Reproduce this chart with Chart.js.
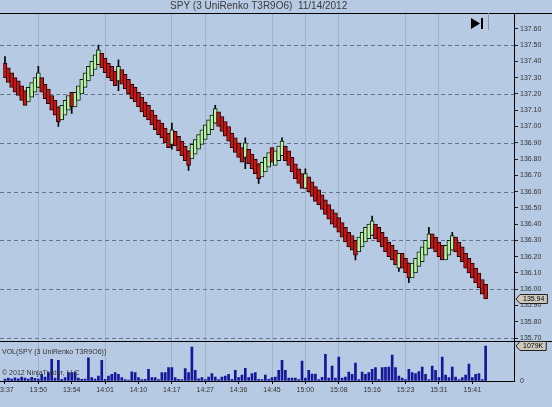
<!DOCTYPE html>
<html>
<head>
<meta charset="utf-8">
<script src="https://cdn.jsdelivr.net/npm/chart.js@4.4.0/dist/chart.umd.min.js"></script>
<style>
  html, body { margin: 0; padding: 0; background: #b7cae3; }
  #wrap { width: 552px; height: 407px; }
</style>
</head>
<body>
<div id="wrap"><canvas id="c" width="552" height="407"></canvas></div>
<script>
// time labels, one every 10 bricks
const timeLabels = ['13:37','13:50','13:54','14:01','14:10','14:17','14:27','14:36','14:45',
                    '15:00','15:08','15:16','15:23','15:31','15:41'];
// which time labels get a vertical grid line in the original
const gridTimes = ['13:50','14:01','14:17','14:27','14:45','15:00','15:08','15:23','15:31'];
const priceTicks = [137.60,137.50,137.40,137.30,137.20,137.10,137.00,136.90,136.80,136.70,
                    136.60,136.50,136.40,136.30,136.20,136.10,136.00,135.90,135.80,135.70];

// brick closes
const closes = [
  137.30,137.27,137.24,137.21,137.19,137.16,137.13,
  137.24,137.27,137.30,137.33,
  137.21,137.17,137.14,137.10,137.07,137.03,
  137.13,137.16,137.19,137.12,137.21,137.25,137.29,137.33,137.37,137.40,137.44,137.47,
  137.36,137.33,137.30,137.28,137.25,
  137.37,
  137.26,137.23,137.20,137.17,137.15,137.12,137.09,137.06,137.04,137.01,136.98,136.95,136.93,136.90,136.87,
  136.98,
  136.88,136.85,136.82,136.79,136.76,
  136.89,136.92,136.95,136.98,137.01,137.04,137.07,137.11,
  137.00,136.97,136.94,136.91,136.87,136.84,136.81,136.78,
  136.90,
  136.77,136.74,136.71,136.68,
  136.78,136.81,136.84,136.78,136.85,136.88,136.91,
  136.79,136.76,136.72,136.68,136.65,136.62,
  136.71,
  136.60,136.57,136.54,136.52,136.49,136.46,136.43,136.40,136.38,136.35,136.32,136.29,136.26,136.24,136.21,
  136.32,136.35,136.38,136.40,136.42,
  136.31,136.29,136.26,136.23,136.20,136.18,136.15,
  136.22,
  136.13,136.10,136.07,
  136.16,136.19,136.23,136.26,136.30,136.34,
  136.25,136.23,136.20,136.18,
  136.27,136.30,136.33,
  136.23,136.20,136.17,136.13,136.10,136.07,136.04,136.01,135.97,135.94
];
const BOX = 0.09; // brick body height

// visible wicks: brick index, low, high
const wickIdx  = [0, 10, 16, 20, 28, 34, 50, 55, 63, 72, 76, 83, 90, 105, 110, 118, 121, 127, 134];
const wickLow  = [null, null, 137.00, 137.08, null, 137.22, 136.86, 136.73, null, 136.74, 136.65, null, null, 136.18, null, 136.11, 136.04, null, null];
const wickHigh = [137.43, 137.37, null, null, 137.50, 137.41, 137.02, null, 137.13, 136.93, null, 136.93, 136.74, null, 136.45, null, null, 136.38, 136.35];

// volume per brick (K)
const volumes = [
  60,90,60,100,70,120,90,60,110,80,
  60,205,120,257,668,90,637,50,103,257,
  257,277,90,50,60,718,103,60,154,637,
  50,154,205,257,205,103,40,30,286,257,
  103,40,50,360,103,103,40,257,257,410,
  410,103,50,40,380,257,1048,330,70,103,
  40,123,225,123,40,123,154,205,50,330,
  103,185,390,103,225,257,50,40,185,50,
  103,123,330,638,330,90,90,90,40,616,
  90,330,215,215,40,110,822,90,462,90,
  740,90,123,277,205,555,40,277,205,257,
  360,410,50,410,420,430,800,410,154,90,
  40,360,257,225,287,430,205,40,462,330,
  103,740,185,103,430,123,40,103,185,524,
  103,205,225,40,1079
];

const SLOTS = 153;
const labels = Array.from({ length: SLOTS }, (_, i) => (i % 10 === 0 && timeLabels[i / 10]) ? timeLabels[i / 10] : '');

const isUp = closes.map((c, i) => i > 0 && c > closes[i - 1]);
const bodies = closes.map((c, i) => isUp[i] ? [c - BOX, c] : [c, c + BOX]);
const wicks = closes.map(() => null);
wickIdx.forEach((idx, k) => {
  const b = bodies[idx];
  wicks[idx] = [wickLow[k] == null ? b[0] : Math.min(wickLow[k], b[0]),
                wickHigh[k] == null ? b[1] : Math.max(wickHigh[k], b[1])];
});

const FONT = "'Liberation Sans', Arial, sans-serif";

function markerBox(ctx, x, y, text) {
  ctx.save();
  ctx.font = '7px ' + FONT;
  const w = ctx.measureText(text).width + 6;
  ctx.beginPath();
  ctx.moveTo(x, y);
  ctx.lineTo(x + 4, y - 4.5);
  ctx.lineTo(x + 4 + w, y - 4.5);
  ctx.lineTo(x + 4 + w, y + 4.5);
  ctx.lineTo(x + 4, y + 4.5);
  ctx.closePath();
  ctx.fillStyle = '#cfc9bd';
  ctx.fill();
  ctx.strokeStyle = '#222';
  ctx.lineWidth = 1;
  ctx.stroke();
  ctx.fillStyle = '#000';
  ctx.textBaseline = 'middle';
  ctx.fillText(text, x + 7, y + 0.5);
  ctx.restore();
}

const decor = {
  id: 'decor',
  beforeDatasetsDraw(chart) {
    const { ctx, chartArea: a } = chart;
    const ys = chart.scales.y;
    ctx.save();
    ctx.strokeStyle = '#66748a';
    ctx.lineWidth = 1;
    ctx.setLineDash([4, 3]);
    priceTicks.forEach(v => {
      // dashed line every 0.30, on 137.50, 137.20 ... 135.70
      if (Math.round(v * 100) % 30 !== 10) return;
      const y = Math.round(ys.getPixelForValue(v)) + 0.5;
      ctx.beginPath();
      ctx.moveTo(0, y);
      ctx.lineTo(a.right, y);
      ctx.stroke();
    });
    ctx.restore();
  },
  afterDraw(chart) {
    const { ctx, chartArea: a, width } = chart;
    const ys = chart.scales.y, yv = chart.scales.yv;
    ctx.save();
    ctx.strokeStyle = '#000';
    ctx.lineWidth = 1;
    ctx.beginPath();
    ctx.moveTo(0, Math.round(a.top) + 0.5); ctx.lineTo(width, Math.round(a.top) + 0.5);
    ctx.moveTo(0, Math.round(yv.top) + 0.5); ctx.lineTo(width, Math.round(yv.top) + 0.5);
    ctx.moveTo(0, Math.round(a.bottom) + 0.5); ctx.lineTo(a.right, Math.round(a.bottom) + 0.5);
    ctx.stroke();

    // play-to-end icon
    ctx.fillStyle = '#000';
    ctx.beginPath();
    ctx.moveTo(471, 18); ctx.lineTo(480, 23.5); ctx.lineTo(471, 29); ctx.closePath();
    ctx.fill();
    ctx.fillRect(481, 18, 2, 11);
    ctx.strokeStyle = '#8a97aa';
    ctx.beginPath(); ctx.moveTo(488.5, a.top); ctx.lineTo(488.5, 30); ctx.stroke();

    ctx.font = '7px ' + FONT;
    ctx.fillStyle = '#333';
    ctx.textBaseline = 'middle';
    ctx.fillText('VOL(SPY (3 UniRenko T3R9O6))', 2, yv.top + 11);
    ctx.fillText('\u00A9 2012 NinjaTrader, LLC', 2, yv.top + 32);
    ctx.restore();

    const last = closes.length - 1;
    markerBox(ctx, a.right + 2, ys.getPixelForValue(closes[last]), closes[last].toFixed(2));
    markerBox(ctx, a.right + 2, yv.getPixelForValue(volumes[last]), volumes[last] + 'K');
  }
};

new Chart(document.getElementById('c'), {
  type: 'bar',
  data: {
    labels,
    datasets: [
      {
        label: 'bricks',
        data: bodies,
        yAxisID: 'y',
        grouped: false,
        barThickness: 4,
        borderWidth: 1,
        borderSkipped: false,
        backgroundColor: isUp.map(u => u ? '#b9f0ab' : '#c81616'),
        borderColor: isUp.map(u => u ? '#0a200a' : '#200000')
      },
      {
        label: 'wicks',
        data: wicks,
        yAxisID: 'y',
        grouped: false,
        barThickness: 1,
        backgroundColor: '#000'
      },
      {
        label: 'volume',
        data: volumes,
        yAxisID: 'yv',
        grouped: false,
        barThickness: 2,
        backgroundColor: '#16169a'
      }
    ]
  },
  options: {
    responsive: false,
    animation: false,
    layout: { padding: { left: 3.3, right: 0, top: 0, bottom: 0 } },
    plugins: {
      legend: { display: false },
      tooltip: { enabled: false },
      title: {
        display: true,
        fullSize: false,
        text: 'SPY (3 UniRenko T3R9O6)  11/14/2012',
        color: '#3a3a3a',
        font: { family: FONT, size: 10, weight: 'normal' },
        padding: { top: 0, bottom: 1 }
      }
    },
    scales: {
      x: {
        type: 'category',
        offset: true,
        grid: {
          offset: false,
          color: c => (c.tick && gridTimes.includes(c.tick.label)) ? '#9fb1cb' : 'rgba(0,0,0,0)',
          tickColor: c => (c.tick && c.tick.label) ? '#000' : 'rgba(0,0,0,0)',
          tickLength: 3
        },
        border: { color: '#000' },
        ticks: { autoSkip: false, maxRotation: 0, minRotation: 0, color: '#333', padding: 2,
                 font: { family: FONT, size: 7 } },
        afterFit: s => { s.paddingLeft = 0; s.paddingRight = 0; s.height = 26; }
      },
      y: {
        type: 'linear',
        position: 'right',
        stack: 'pane',
        stackWeight: 8.2,
        min: 135.682,
        max: 137.697,
        afterBuildTicks: s => { s.ticks = priceTicks.map(v => ({ value: v })); },
        grid: { drawOnChartArea: false, tickLength: 4, tickColor: '#222' },
        border: { color: '#000' },
        ticks: { autoSkip: false, color: '#333', padding: 2, font: { family: FONT, size: 7 },
                 callback: v => Number(v).toFixed(2) },
        afterFit: s => { s.width = 38; }
      },
      yv: {
        type: 'linear',
        position: 'right',
        stack: 'pane',
        stackWeight: 1,
        min: 0,
        max: 1233,
        afterBuildTicks: s => { s.ticks = [{ value: 0 }]; },
        grid: { drawOnChartArea: false, tickLength: 4, tickColor: 'rgba(0,0,0,0)' },
        border: { color: '#000' },
        ticks: { autoSkip: false, color: '#333', padding: 2, font: { family: FONT, size: 7 } },
        afterFit: s => { s.width = 38; }
      }
    }
  },
  plugins: [decor]
});
</script>
</body>
</html>
